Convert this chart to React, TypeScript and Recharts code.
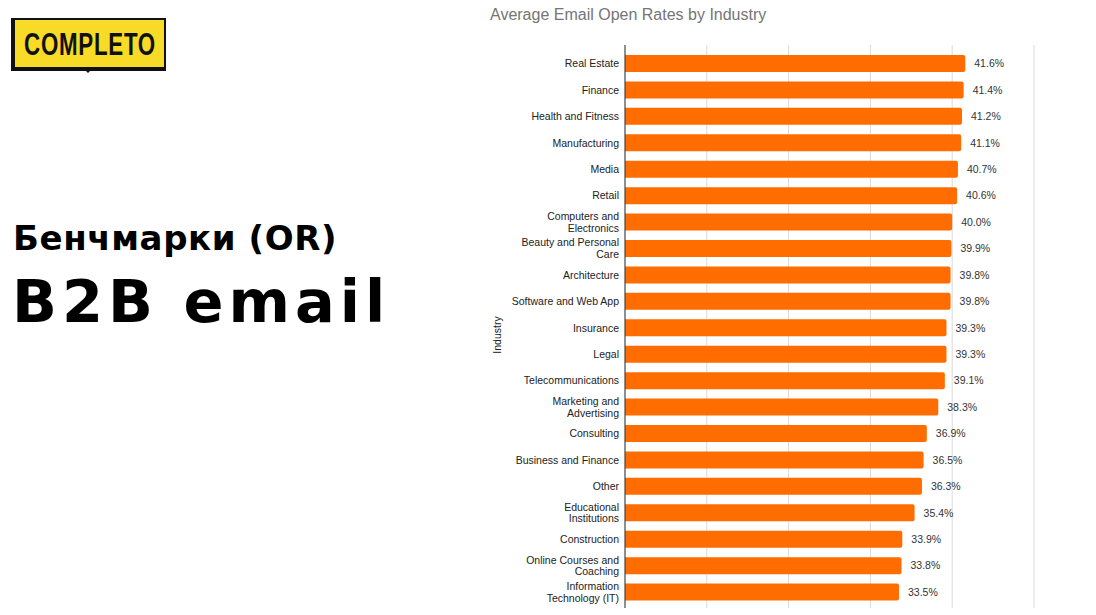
import { BarChart, Bar, XAxis, YAxis, CartesianGrid, LabelList } from 'recharts';

const industries = [
  'Real Estate',
  'Finance',
  'Health and Fitness',
  'Manufacturing',
  'Media',
  'Retail',
  'Computers and Electronics',
  'Beauty and Personal Care',
  'Architecture',
  'Software and Web App',
  'Insurance',
  'Legal',
  'Telecommunications',
  'Marketing and Advertising',
  'Consulting',
  'Business and Finance',
  'Other',
  'Educational Institutions',
  'Construction',
  'Online Courses and Coaching',
  'Information Technology (IT)',
];

const openRates = [
  41.6, 41.4, 41.2, 41.1, 40.7, 40.6, 40.0, 39.9, 39.8, 39.8, 39.3, 39.3, 39.1, 38.3, 36.9, 36.5, 36.3,
  35.4, 33.9, 33.8, 33.5,
];

const rateTicks = [0, 10, 20, 30, 40, 50];

const data = industries.map((industry, i) => ({ industry, rate: openRates[i] }));

// greedy wrap, roughly how the source chart breaks long category names
const wrapLabel = (text: string, max = 20) => {
  if (text.length <= max) return [text];
  const lines: string[] = [];
  let cur = '';
  text.split(' ').forEach((w) => {
    const next = cur ? cur + ' ' + w : w;
    if (next.length > max - 1 && cur) {
      lines.push(cur);
      cur = w;
    } else {
      cur = next;
    }
  });
  if (cur) lines.push(cur);
  return lines;
};

const IndustryTick = ({ x, y, payload }: any) => {
  const lines = wrapLabel(String(payload.value));
  const lineH = 11.5;
  const startY = y - ((lines.length - 1) * lineH) / 2;
  return (
    <text
      x={x}
      y={startY}
      textAnchor="end"
      dominantBaseline="central"
      fill="#222"
      fontSize={10.5}
      fontFamily="'Liberation Sans', Arial, sans-serif"
    >
      {lines.map((l, i) => (
        <tspan key={i} x={x} dy={i === 0 ? 0 : lineH}>
          {l}
        </tspan>
      ))}
    </text>
  );
};

const Logo = () => (
  <div style={{ position: 'absolute', left: 11, top: 18, width: 155, height: 53 }}>
    <div style={{ position: 'absolute', left: 0, top: 0, width: 155, height: 53, background: '#111' }} />
    <div
      style={{
        position: 'absolute',
        left: 4,
        top: 2,
        width: 149,
        height: 47,
        background: '#F7DB27',
      }}
    >
      <span
        style={{
          position: 'absolute',
          left: '50%',
          top: '50%',
          transform: 'translate(-50%, -50%) scaleX(0.72)',
          fontFamily: "'Liberation Sans', Arial, sans-serif",
          fontWeight: 700,
          fontSize: 31,
          letterSpacing: 1,
          color: '#111',
          lineHeight: 1,
          whiteSpace: 'nowrap',
        }}
      >
        COMPLETO
      </span>
    </div>
    <div
      style={{
        position: 'absolute',
        left: 73,
        top: 51,
        width: 0,
        height: 0,
        borderLeft: '4px solid transparent',
        borderRight: '4px solid transparent',
        borderTop: '4px solid #111',
      }}
    />
  </div>
);

export default function App() {
  return (
    <div
      style={{
        position: 'fixed',
        left: 0,
        top: 0,
        width: 1096,
        height: 615,
        overflow: 'hidden',
        background: '#fff',
      }}
    >
      <Logo />
      <div
        style={{
          position: 'absolute',
          left: 13,
          top: 218,
          fontFamily: "'DejaVu Sans', sans-serif",
          fontWeight: 700,
          fontSize: 34,
          letterSpacing: 0.6,
          color: '#000',
          whiteSpace: 'nowrap',
        }}
      >
        Бенчмарки (OR)
      </div>
      <div
        style={{
          position: 'absolute',
          left: 12,
          top: 267,
          fontFamily: "'DejaVu Sans', sans-serif",
          fontWeight: 700,
          fontSize: 59,
          letterSpacing: 5,
          color: '#000',
          whiteSpace: 'nowrap',
        }}
      >
        B2B email
      </div>

      <div
        style={{
          position: 'absolute',
          left: 490,
          top: 6,
          fontFamily: "'Liberation Sans', Arial, sans-serif",
          fontSize: 16,
          color: '#757575',
          whiteSpace: 'nowrap',
        }}
      >
        Average Email Open Rates by Industry
      </div>
      <div
        style={{
          position: 'absolute',
          left: 497,
          top: 335,
          transform: 'translate(-50%, -50%) rotate(-90deg)',
          fontFamily: "'Liberation Sans', Arial, sans-serif",
          fontSize: 10.5,
          color: '#222',
          whiteSpace: 'nowrap',
        }}
      >
        Industry
      </div>

      <div style={{ position: 'absolute', left: 480, top: 0 }}>
        <BarChart
          width={616}
          height={615}
          data={data}
          layout="vertical"
          margin={{ top: 45, right: 62, bottom: 7, left: 0 }}
          barCategoryGap={0}
        >
          <CartesianGrid horizontal={false} stroke="#d9d9d9" />
          <XAxis type="number" domain={[0, 50]} ticks={rateTicks} hide />
          <YAxis
            type="category"
            dataKey="industry"
            width={145}
            tick={<IndustryTick />}
            tickLine={false}
            tickSize={6}
            tickMargin={0}
            axisLine={{ stroke: '#333' }}
            interval={0}
            padding={{ top: 5, bottom: 3 }}
          />
          <Bar dataKey="rate" fill="#FF6D01" barSize={17} radius={[0, 2, 2, 0]} isAnimationActive={false}>
            <LabelList
              dataKey="rate"
              position="right"
              offset={9}
              formatter={(v: any) => `${Number(v).toFixed(1)}%`}
              fill="#333"
              fontSize={10.5}
              fontFamily="'Liberation Sans', Arial, sans-serif"
            />
          </Bar>
        </BarChart>
      </div>
    </div>
  );
}
